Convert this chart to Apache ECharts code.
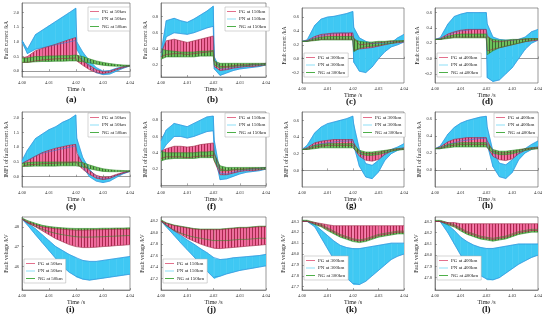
<!DOCTYPE html>
<html><head><meta charset="utf-8">
<script src="https://cdn.jsdelivr.net/npm/echarts@6/dist/echarts.min.js"></script>
<style>html,body{margin:0;padding:0;background:#fff}#c{width:550px;height:322px}</style>
</head><body><div id="c"></div>
<script>
// time samples (s)
const T = [4.000, 4.002, 4.005, 4.0075, 4.010, 4.0125, 4.015, 4.0175, 4.0199, 4.0203, 4.0225, 4.025, 4.0275, 4.030, 4.0325, 4.035, 4.0375, 4.040];
const xTicks = [4.00, 4.01, 4.02, 4.03, 4.04];
const kms = ['50km', '150km', '300km', '400km'];

// (a) fault current 50km
const aPNhi = [1.05, 0.75, 1.25, 1.4, 1.55, 1.7, 1.85, 2.0, 2.15, 1.0, 0.65, 0.35, 0.12, 0.0, 0.02, 0.1, 0.15, 0.2];
const aPNlo = [1.0, 0.6, 0.75, 0.8, 0.85, 0.9, 0.95, 1.0, 1.05, 0.75, 0.4, 0.15, -0.05, -0.12, -0.1, 0.0, 0.1, 0.18];
const aPGhi = [0.45, 0.5, 0.7, 0.78, 0.85, 0.92, 1.0, 1.08, 1.15, 0.55, 0.35, 0.2, 0.05, -0.02, 0.0, 0.08, 0.15, 0.2];
const aPGlo = [0.3, 0.3, 0.35, 0.38, 0.4, 0.42, 0.43, 0.44, 0.45, 0.35, 0.2, 0.05, -0.05, -0.08, -0.05, 0.05, 0.12, 0.18];
const aNGhi = [0.45, 0.45, 0.5, 0.5, 0.52, 0.52, 0.53, 0.53, 0.55, 0.55, 0.5, 0.42, 0.35, 0.3, 0.26, 0.23, 0.21, 0.2];
const aNGlo = [0.3, 0.3, 0.32, 0.33, 0.33, 0.34, 0.34, 0.35, 0.35, 0.35, 0.32, 0.28, 0.24, 0.2, 0.18, 0.17, 0.17, 0.17];
// (b) fault current 150km
const bPNhi = [0.35, 0.75, 0.78, 0.75, 0.73, 0.77, 0.82, 0.87, 0.93, 0.3, 0.15, 0.15, 0.17, 0.18, 0.19, 0.2, 0.2, 0.22];
const bPNlo = [0.3, 0.55, 0.6, 0.59, 0.58, 0.6, 0.63, 0.66, 0.68, 0.15, 0.07, 0.1, 0.13, 0.15, 0.16, 0.17, 0.18, 0.2];
const bPGhi = [0.35, 0.5, 0.52, 0.5, 0.48, 0.5, 0.52, 0.54, 0.56, 0.25, 0.18, 0.18, 0.19, 0.2, 0.2, 0.21, 0.21, 0.22];
const bPGlo = [0.3, 0.33, 0.34, 0.34, 0.33, 0.34, 0.35, 0.36, 0.37, 0.18, 0.13, 0.14, 0.16, 0.17, 0.18, 0.18, 0.19, 0.2];
const bNGhi = [0.4, 0.38, 0.37, 0.36, 0.36, 0.36, 0.37, 0.37, 0.38, 0.25, 0.22, 0.22, 0.22, 0.22, 0.22, 0.22, 0.22, 0.22];
const bNGlo = [0.27, 0.3, 0.3, 0.3, 0.3, 0.3, 0.31, 0.31, 0.31, 0.2, 0.16, 0.17, 0.18, 0.19, 0.19, 0.2, 0.2, 0.2];
// (c) fault current 300km
const cPNhi = [0.25, 0.27, 0.48, 0.57, 0.6, 0.61, 0.63, 0.65, 0.68, 0.45, 0.3, 0.25, 0.22, 0.22, 0.22, 0.23, 0.3, 0.35];
const cPNlo = [0.25, 0.25, 0.3, 0.33, 0.35, 0.36, 0.37, 0.37, 0.38, -0.05, -0.18, -0.2, -0.12, 0.0, 0.1, 0.17, 0.2, 0.24];
const cPGhi = [0.25, 0.26, 0.32, 0.35, 0.36, 0.37, 0.37, 0.37, 0.37, 0.3, 0.2, 0.21, 0.22, 0.23, 0.24, 0.25, 0.25, 0.26];
const cPGlo = [0.25, 0.25, 0.27, 0.28, 0.28, 0.28, 0.28, 0.28, 0.28, 0.12, 0.14, 0.15, 0.16, 0.18, 0.2, 0.22, 0.23, 0.24];
const cNGhi = [0.25, 0.25, 0.29, 0.31, 0.32, 0.32, 0.32, 0.32, 0.32, 0.28, 0.25, 0.24, 0.24, 0.25, 0.25, 0.26, 0.26, 0.26];
const cNGlo = [0.25, 0.25, 0.26, 0.27, 0.27, 0.27, 0.27, 0.27, 0.27, 0.1, 0.15, 0.17, 0.18, 0.19, 0.21, 0.22, 0.24, 0.25];
// (d) fault current 400km
const dPNhi = [0.25, 0.27, 0.45, 0.55, 0.58, 0.6, 0.6, 0.6, 0.6, 0.45, 0.28, 0.25, 0.24, 0.24, 0.25, 0.28, 0.35, 0.38];
const dPNlo = [0.25, 0.25, 0.3, 0.34, 0.36, 0.37, 0.38, 0.38, 0.38, -0.25, -0.3, -0.28, -0.2, -0.12, 0.0, 0.12, 0.2, 0.24];
const dPGhi = [0.25, 0.26, 0.32, 0.35, 0.37, 0.38, 0.38, 0.38, 0.38, 0.3, 0.22, 0.22, 0.23, 0.24, 0.25, 0.25, 0.26, 0.26];
const dPGlo = [0.25, 0.25, 0.27, 0.28, 0.28, 0.28, 0.28, 0.28, 0.28, 0.1, 0.12, 0.14, 0.16, 0.18, 0.2, 0.22, 0.23, 0.24];
const dNGhi = [0.25, 0.25, 0.29, 0.31, 0.32, 0.32, 0.32, 0.32, 0.32, 0.28, 0.25, 0.24, 0.24, 0.25, 0.25, 0.26, 0.26, 0.26];
const dNGlo = [0.25, 0.25, 0.26, 0.27, 0.27, 0.27, 0.27, 0.27, 0.27, 0.05, 0.1, 0.14, 0.16, 0.18, 0.2, 0.22, 0.24, 0.25];
// (e) IMF1 50km
const ePNhi = [0.55, 0.9, 1.3, 1.45, 1.6, 1.7, 1.85, 1.95, 2.1, 1.3, 0.65, 0.25, 0.0, -0.08, -0.05, 0.05, 0.12, 0.2];
const ePNlo = [0.45, 0.55, 0.7, 0.8, 0.85, 0.9, 0.95, 1.0, 1.05, 0.9, 0.35, 0.0, -0.15, -0.2, -0.15, -0.02, 0.1, 0.18];
const ePGhi = [0.45, 0.55, 0.7, 0.82, 0.9, 0.97, 1.02, 1.07, 1.1, 0.8, 0.45, 0.2, 0.05, -0.02, 0.0, 0.08, 0.15, 0.2];
const ePGlo = [0.35, 0.4, 0.42, 0.44, 0.45, 0.46, 0.47, 0.48, 0.5, 0.45, 0.25, 0.08, -0.05, -0.1, -0.06, 0.04, 0.12, 0.18];
const eNGhi = [0.45, 0.48, 0.5, 0.5, 0.5, 0.5, 0.5, 0.5, 0.5, 0.52, 0.48, 0.4, 0.33, 0.27, 0.24, 0.22, 0.21, 0.2];
const eNGlo = [0.35, 0.35, 0.36, 0.36, 0.36, 0.36, 0.37, 0.37, 0.37, 0.37, 0.33, 0.27, 0.22, 0.18, 0.17, 0.17, 0.18, 0.18];
// (f) IMF1 150km
const fPNhi = [0.55, 0.68, 0.76, 0.74, 0.72, 0.76, 0.8, 0.84, 0.85, 0.55, 0.15, 0.14, 0.16, 0.18, 0.19, 0.2, 0.21, 0.22];
const fPNlo = [0.4, 0.5, 0.6, 0.6, 0.58, 0.6, 0.63, 0.66, 0.67, 0.4, 0.07, 0.08, 0.11, 0.14, 0.16, 0.17, 0.18, 0.2];
const fPGhi = [0.42, 0.45, 0.48, 0.48, 0.47, 0.48, 0.5, 0.51, 0.52, 0.4, 0.2, 0.18, 0.19, 0.2, 0.2, 0.21, 0.21, 0.22];
const fPGlo = [0.33, 0.35, 0.35, 0.35, 0.34, 0.35, 0.36, 0.36, 0.37, 0.3, 0.13, 0.13, 0.15, 0.17, 0.18, 0.18, 0.19, 0.2];
const fNGhi = [0.42, 0.4, 0.4, 0.4, 0.4, 0.4, 0.41, 0.41, 0.42, 0.38, 0.24, 0.22, 0.22, 0.22, 0.22, 0.22, 0.22, 0.22];
const fNGlo = [0.3, 0.32, 0.33, 0.33, 0.33, 0.33, 0.34, 0.34, 0.34, 0.3, 0.18, 0.18, 0.19, 0.19, 0.2, 0.2, 0.2, 0.2];
// (g) IMF1 300km
const gPNhi = [0.25, 0.3, 0.45, 0.52, 0.56, 0.58, 0.6, 0.62, 0.65, 0.55, 0.25, 0.08, 0.06, 0.12, 0.2, 0.25, 0.28, 0.32];
const gPNlo = [0.25, 0.26, 0.3, 0.32, 0.33, 0.34, 0.35, 0.35, 0.36, 0.3, 0.05, -0.08, -0.1, -0.02, 0.12, 0.2, 0.24, 0.27];
const gPGhi = [0.25, 0.27, 0.33, 0.35, 0.36, 0.37, 0.37, 0.37, 0.37, 0.33, 0.22, 0.2, 0.2, 0.21, 0.23, 0.25, 0.26, 0.27];
const gPGlo = [0.25, 0.25, 0.28, 0.29, 0.3, 0.3, 0.3, 0.3, 0.3, 0.27, 0.17, 0.12, 0.11, 0.13, 0.19, 0.23, 0.25, 0.25];
const gNGhi = [0.25, 0.26, 0.3, 0.31, 0.32, 0.32, 0.32, 0.32, 0.32, 0.3, 0.24, 0.22, 0.22, 0.23, 0.24, 0.25, 0.26, 0.26];
const gNGlo = [0.25, 0.25, 0.26, 0.27, 0.27, 0.27, 0.27, 0.27, 0.27, 0.26, 0.2, 0.18, 0.18, 0.19, 0.21, 0.23, 0.24, 0.25];
// (h) IMF1 400km
const hPNhi = [0.25, 0.28, 0.42, 0.5, 0.55, 0.58, 0.6, 0.62, 0.63, 0.5, 0.22, 0.08, 0.06, 0.12, 0.2, 0.25, 0.3, 0.34];
const hPNlo = [0.25, 0.25, 0.3, 0.32, 0.34, 0.35, 0.36, 0.37, 0.37, 0.3, 0.04, -0.08, -0.1, -0.03, 0.12, 0.2, 0.24, 0.27];
const hPGhi = [0.25, 0.27, 0.33, 0.36, 0.37, 0.38, 0.38, 0.38, 0.38, 0.34, 0.22, 0.2, 0.2, 0.21, 0.23, 0.25, 0.26, 0.27];
const hPGlo = [0.25, 0.25, 0.28, 0.29, 0.3, 0.3, 0.3, 0.3, 0.3, 0.27, 0.16, 0.12, 0.11, 0.13, 0.19, 0.23, 0.25, 0.25];
const hNGhi = [0.25, 0.26, 0.3, 0.31, 0.32, 0.32, 0.32, 0.32, 0.32, 0.3, 0.24, 0.22, 0.22, 0.23, 0.24, 0.25, 0.26, 0.26];
const hNGlo = [0.25, 0.25, 0.26, 0.27, 0.27, 0.27, 0.27, 0.27, 0.27, 0.26, 0.2, 0.18, 0.18, 0.19, 0.21, 0.23, 0.24, 0.25];
// (i) fault voltage 50km
const iPNhi = [48.4, 48.2, 47.9, 47.6, 47.3, 47.0, 46.8, 46.6, 46.45, 46.4, 46.3, 46.25, 46.25, 46.3, 46.35, 46.4, 46.45, 46.5];
const iPNlo = [48.4, 48.1, 47.6, 47.2, 46.8, 46.4, 46.0, 45.7, 45.5, 45.45, 45.35, 45.3, 45.35, 45.4, 45.45, 45.5, 45.55, 45.6];
const iPGhi = [48.4, 48.25, 48.1, 48.0, 47.95, 47.9, 47.88, 47.85, 47.83, 47.83, 47.83, 47.84, 47.85, 47.86, 47.87, 47.88, 47.88, 47.88];
const iPGlo = [48.4, 48.2, 48.0, 47.8, 47.6, 47.4, 47.25, 47.1, 47.0, 47.0, 46.95, 46.95, 46.97, 47.0, 47.02, 47.05, 47.07, 47.1];
const iNGhi = [48.45, 48.32, 48.18, 48.08, 48.02, 47.98, 47.95, 47.93, 47.92, 47.92, 47.92, 47.92, 47.92, 47.93, 47.93, 47.94, 47.94, 47.95];
const iNGlo = [48.4, 48.22, 48.02, 47.88, 47.76, 47.67, 47.6, 47.55, 47.5, 47.5, 47.48, 47.48, 47.49, 47.5, 47.52, 47.53, 47.55, 47.56];
// (j) fault voltage 150km
const jPNhi = [48.2, 48.13, 48.03, 47.95, 47.87, 47.8, 47.72, 47.65, 47.57, 47.55, 47.53, 47.54, 47.56, 47.57, 47.58, 47.59, 47.6, 47.62];
const jPNlo = [48.2, 48.1, 47.95, 47.82, 47.7, 47.58, 47.45, 47.33, 47.22, 47.2, 47.24, 47.28, 47.31, 47.34, 47.36, 47.38, 47.4, 47.42];
const jPGhi = [48.2, 48.16, 48.12, 48.1, 48.08, 48.06, 48.05, 48.05, 48.05, 48.05, 48.05, 48.06, 48.07, 48.08, 48.08, 48.09, 48.1, 48.1];
const jPGlo = [48.2, 48.13, 48.03, 47.97, 47.9, 47.85, 47.8, 47.76, 47.73, 47.72, 47.72, 47.73, 47.74, 47.75, 47.76, 47.77, 47.78, 47.79];
const jNGhi = [48.22, 48.17, 48.13, 48.11, 48.09, 48.07, 48.06, 48.06, 48.06, 48.06, 48.06, 48.07, 48.08, 48.09, 48.09, 48.1, 48.11, 48.11];
const jNGlo = [48.2, 48.12, 48.04, 47.99, 47.95, 47.92, 47.9, 47.88, 47.86, 47.86, 47.86, 47.86, 47.87, 47.88, 47.88, 47.89, 47.9, 47.9];
// (k) fault voltage 300km
const kPNhi = [48.3, 48.3, 48.27, 48.22, 48.17, 48.12, 48.08, 48.06, 48.05, 48.05, 48.05, 48.06, 48.07, 48.08, 48.09, 48.1, 48.1, 48.1];
const kPNlo = [48.3, 48.3, 48.25, 48.15, 48.05, 47.95, 47.85, 47.78, 47.73, 47.72, 47.72, 47.75, 47.8, 47.85, 47.9, 47.95, 47.98, 48.0];
const kPGhi = [48.3, 48.3, 48.29, 48.28, 48.27, 48.26, 48.26, 48.26, 48.26, 48.26, 48.26, 48.26, 48.26, 48.26, 48.26, 48.26, 48.26, 48.26];
const kPGlo = [48.3, 48.3, 48.28, 48.26, 48.23, 48.2, 48.17, 48.15, 48.13, 48.13, 48.12, 48.13, 48.15, 48.17, 48.18, 48.19, 48.2, 48.2];
const kNGhi = [48.31, 48.31, 48.29, 48.27, 48.24, 48.21, 48.18, 48.16, 48.14, 48.14, 48.13, 48.14, 48.16, 48.18, 48.19, 48.2, 48.21, 48.21];
const kNGlo = [48.3, 48.3, 48.27, 48.25, 48.215, 48.185, 48.155, 48.135, 48.115, 48.115, 48.105, 48.115, 48.135, 48.155, 48.165, 48.175, 48.185, 48.185];
// (l) fault voltage 400km
const lPNhi = [48.3, 48.3, 48.27, 48.22, 48.16, 48.12, 48.09, 48.07, 48.06, 48.06, 48.06, 48.07, 48.08, 48.09, 48.1, 48.1, 48.1, 48.1];
const lPNlo = [48.3, 48.3, 48.2, 48.1, 48.0, 47.93, 47.87, 47.82, 47.79, 47.78, 47.78, 47.8, 47.84, 47.88, 47.92, 47.95, 47.98, 48.0];
const lPGhi = [48.3, 48.3, 48.29, 48.29, 48.28, 48.28, 48.28, 48.28, 48.28, 48.28, 48.28, 48.28, 48.28, 48.28, 48.28, 48.28, 48.28, 48.28];
const lPGlo = [48.3, 48.3, 48.28, 48.26, 48.23, 48.2, 48.18, 48.16, 48.15, 48.15, 48.14, 48.15, 48.16, 48.18, 48.2, 48.21, 48.22, 48.22];
const lNGhi = [48.31, 48.31, 48.29, 48.27, 48.24, 48.21, 48.19, 48.17, 48.16, 48.16, 48.15, 48.16, 48.17, 48.19, 48.21, 48.22, 48.23, 48.23];
const lNGlo = [48.3, 48.3, 48.27, 48.25, 48.215, 48.185, 48.165, 48.145, 48.135, 48.135, 48.125, 48.135, 48.145, 48.165, 48.185, 48.195, 48.205, 48.205];

// y tick labels per panel
const yTicksA = [0.0, 0.5, 1.0, 1.5, 2.0];
const yTicksB = [0.2, 0.4, 0.6, 0.8];
const yTicksC = [-0.2, 0.0, 0.2, 0.4, 0.6];
const yTicksD = [-0.2, 0.0, 0.2, 0.4, 0.6];
const yTicksE = [0.0, 0.5, 1.0, 1.5, 2.0];
const yTicksF = [0.2, 0.4, 0.6, 0.8];
const yTicksG = [0.0, 0.2, 0.4, 0.6];
const yTicksH = [0.0, 0.2, 0.4, 0.6];
const yTicksI = [46, 47, 48];
const yTicksJ = [47.2, 47.4, 47.6, 47.8, 48.0, 48.2];
const yTicksK = [47.7, 47.8, 47.9, 48.0, 48.1, 48.2, 48.3];
const yTicksL = [47.8, 47.9, 48.0, 48.1, 48.2, 48.3];

const yNameCur = 'Fault current /kA', yNameImf = 'IMF1 of fault current /kA', yNameVol = 'Fault voltage /kV';

const panels = [
  {lab:'(a)', km:0, yName:yNameCur, y:[-0.2, 2.33], ticks:yTicksA, dec:1, PN:[aPNlo,aPNhi], PG:[aPGlo,aPGhi], NG:[aNGlo,aNGhi]},
  {lab:'(b)', km:1, yName:yNameCur, y:[0.05, 0.97], ticks:yTicksB, dec:1, PN:[bPNlo,bPNhi], PG:[bPGlo,bPGhi], NG:[bNGlo,bNGhi]},
  {lab:'(c)', km:2, yName:yNameCur, y:[-0.35, 0.73], ticks:yTicksC, dec:1, PN:[cPNlo,cPNhi], PG:[cPGlo,cPGhi], NG:[cNGlo,cNGhi]},
  {lab:'(d)', km:3, yName:yNameCur, y:[-0.32, 0.66], ticks:yTicksD, dec:1, PN:[dPNlo,dPNhi], PG:[dPGlo,dPGhi], NG:[dNGlo,dNGhi]},
  {lab:'(e)', km:0, yName:yNameImf, y:[-0.35, 2.2], ticks:yTicksE, dec:1, PN:[ePNlo,ePNhi], PG:[ePGlo,ePGhi], NG:[eNGlo,eNGhi]},
  {lab:'(f)', km:1, yName:yNameImf, y:[-0.02, 0.9], ticks:yTicksF, dec:1, PN:[fPNlo,fPNhi], PG:[fPGlo,fPGhi], NG:[fNGlo,fNGhi]},
  {lab:'(g)', km:2, yName:yNameImf, y:[-0.2, 0.7], ticks:yTicksG, dec:1, PN:[gPNlo,gPNhi], PG:[gPGlo,gPGhi], NG:[gNGlo,gNGhi]},
  {lab:'(h)', km:3, yName:yNameImf, y:[-0.2, 0.68], ticks:yTicksH, dec:1, PN:[hPNlo,hPNhi], PG:[hPGlo,hPGhi], NG:[hNGlo,hNGhi]},
  {lab:'(i)', km:0, yName:yNameVol, y:[44.8, 48.5], ticks:yTicksI, dec:0, PN:[iPNlo,iPNhi], PG:[iPGlo,iPGhi], NG:[iNGlo,iNGhi]},
  {lab:'(j)', km:1, yName:yNameVol, y:[47.0, 48.27], ticks:yTicksJ, dec:1, PN:[jPNlo,jPNhi], PG:[jPGlo,jPGhi], NG:[jNGlo,jNGhi]},
  {lab:'(k)', km:2, yName:yNameVol, y:[47.67, 48.34], ticks:yTicksK, dec:1, PN:[kPNlo,kPNhi], PG:[kPGlo,kPGhi], NG:[kNGlo,kNGhi]},
  {lab:'(l)', km:3, yName:yNameVol, y:[47.69, 48.34], ticks:yTicksL, dec:1, PN:[lPNlo,lPNhi], PG:[lPGlo,lPGhi], NG:[lNGlo,lNGhi]}
];

// layout
const colL = [22, 161, 302, 435], colW = [108, 105, 102, 103];
const rowTop = [[3, 3, 8, 8], [112, 112, 112, 112], [217, 217, 217, 217]];
const rowH = [[74, 74, 75, 75], [75, 75, 75, 75], [73, 73, 73, 73]];
const legendPos = [
  [88, 7], [225, 7], [304, 53], [437, 53],
  [88, 113], [225, 113], [361, 113], [494, 113],
  [24, 259], [163, 259], [304, 256], [437, 256]
];
const labelPos = [[72, 101], [213, 101], [352, 103], [488, 103], [72, 208], [213, 208], [352, 207], [488, 207], [72, 311], [213, 311], [352, 311], [488, 311]];

function stripes(bg, fg, period) {
  const cv = document.createElement('canvas');
  cv.width = period; cv.height = 4;
  const ctx = cv.getContext('2d');
  ctx.fillStyle = bg; ctx.fillRect(0, 0, period, 4);
  ctx.fillStyle = fg; ctx.fillRect(0, 0, 1, 4);
  return {image: cv, repeat: 'repeat'};
}

const STY = {
  PN: {fill: '#3fc8f3', line: '#2c84d6', leg: '#7fdcf5'},
  PG: {fill: stripes('#f06a9c', '#a8284e', 3), line: '#9e2846', leg: '#e0607f'},
  NG: {fill: stripes('#6cc05a', '#3a6a30', 3), line: '#2f8a2a', leg: '#3aa635'}
};
const FONT = 'Liberation Serif';

function bandRender(fill) {
  return function (params, api) {
    const p0 = api.coord([api.value(0), api.value(2)]);
    const p1 = api.coord([api.value(0), api.value(3)]);
    const p2 = api.coord([api.value(1), api.value(5)]);
    const p3 = api.coord([api.value(1), api.value(4)]);
    const solid = typeof fill === 'string';
    return {type: 'polygon', shape: {points: [p0, p1, p2, p3]},
      style: {fill: fill, stroke: solid ? fill : null, lineWidth: solid ? 0.5 : 0}};
  };
}

const grids = [], xAxes = [], yAxes = [], series = [], legends = [], graphics = [];
panels.forEach((p, gi) => {
  const r = Math.floor(gi / 4), c = gi % 4;
  grids.push({left: colL[c], top: rowTop[r][c], width: colW[c], height: rowH[r][c], show: true, borderColor: '#555', borderWidth: 0.6, backgroundColor: '#fff'});
  xAxes.push({type: 'value', gridIndex: gi, min: 4.00, max: 4.04,
    name: 'Time /s', nameLocation: 'middle', nameGap: 9, nameTextStyle: {fontFamily: FONT, fontSize: 6, color: '#222'},
    axisLine: {lineStyle: {color: '#555', width: 0.6}}, axisTick: {inside: true, length: 2, lineStyle: {color: '#555', width: 0.5}, customValues: xTicks},
    axisLabel: {fontFamily: FONT, fontSize: 4.5, color: '#333', margin: 3, customValues: xTicks, formatter: v => v.toFixed(2)},
    splitLine: {show: false}});
  yAxes.push({type: 'value', gridIndex: gi, min: p.y[0], max: p.y[1],
    name: p.yName, nameLocation: 'middle', nameGap: p.dec === 1 && p.y[1] > 40 ? 15 : 12, nameTextStyle: {fontFamily: FONT, fontSize: 5.5, color: '#222'},
    axisLine: {show: true, lineStyle: {color: '#555', width: 0.6}}, axisTick: {inside: true, length: 2, lineStyle: {color: '#555', width: 0.5}, customValues: p.ticks},
    axisLabel: {fontFamily: FONT, fontSize: 4.5, color: '#333', margin: 3, customValues: p.ticks, formatter: v => v.toFixed(p.dec)},
    splitLine: {show: false}});
  const km = kms[p.km];
  const order = p.y[1] > 40 ? ['PN', 'NG', 'PG'] : ['PN', 'PG', 'NG'];
  order.forEach(k => {
    const [lo, hi] = p[k];
    const st = STY[k], nm = k + ' at ' + km;
    series.push({type: 'custom', name: nm, xAxisIndex: gi, yAxisIndex: gi, clip: true, animation: false,
      renderItem: bandRender(st.fill), encode: {x: [0, 1], y: [2, 3, 4, 5]},
      data: T.slice(0, -1).map((t, i) => [t, T[i + 1], lo[i], hi[i], lo[i + 1], hi[i + 1]])});
    [lo, hi].forEach(arr => series.push({type: 'line', name: nm + ' edge', xAxisIndex: gi, yAxisIndex: gi,
      data: T.map((t, i) => [t, arr[i]]), symbol: 'none', silent: true, animation: false,
      lineStyle: {color: st.line, width: 0.6}}));
  });
  legends.push({left: legendPos[gi][0], top: legendPos[gi][1], orient: 'vertical', itemWidth: 9, itemHeight: 4, itemGap: 2.5,
    padding: [2, 3, 2, 2], borderColor: '#aaa', borderWidth: 0.5, backgroundColor: '#fff', selectedMode: false,
    textStyle: {fontFamily: FONT, fontSize: 5, color: '#222', padding: [0, 0, 0, -2]},
    data: ['PG', 'PN', 'NG'].map(k => ({name: k + ' at ' + km, icon: 'path://M0,0L10,0L10,1L0,1Z', itemStyle: {color: STY[k].leg}}))});
  graphics.push({type: 'text', left: labelPos[gi][0] - 6, top: labelPos[gi][1] - 6,
    style: {text: p.lab, font: 'bold 9px ' + FONT, fill: '#111'}});
});

const chart = echarts.init(document.getElementById('c'), null, {renderer: 'canvas'});
chart.setOption({animation: false, grid: grids, xAxis: xAxes, yAxis: yAxes, series: series, legend: legends, graphic: graphics});
</script></body></html>
